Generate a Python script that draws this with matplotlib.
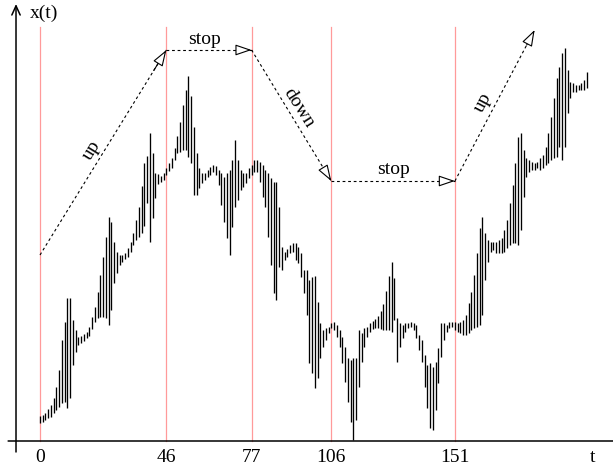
import matplotlib
matplotlib.use('Agg')
import matplotlib.pyplot as plt

# one bar per time step, t = 0..199 (low / high of x(t))
lows = [18, 19, 21, 23, 24, 28, 31, 34, 38, 39,
        33, 43, 76, 89, 96, 98, 100, 103, 105, 112,
        119, 123, 124, 124, 123, 116, 131, 158, 168, 176,
        179, 182, 184, 189, 196, 201, 204, 208, 215, 238,
        199, 223, 243, 257, 259, 261, 266, 270, 273, 281,
        288, 289, 291, 291, 284, 278, 246, 246, 253, 258,
        261, 264, 266, 269, 266, 256, 236, 219, 203, 186,
        214, 234, 241, 251, 254, 258, 263, 266, 269, 269,
        259, 244, 234, 204, 176, 148, 141, 174, 171, 181,
        184, 188, 189, 181, 178, 164, 148, 126, 78, 68,
        53, 63, 83, 94, 101, 108, 113, 111, 104, 94,
        78, 59, 39, 19, 1, 21, 54, 79, 94, 104,
        109, 112, 113, 113, 112, 111, 111, 111, 109, 121,
        79, 94, 103, 109, 113, 114, 111, 103, 91, 79,
        54, 33, 13, 11, 31, 58, 84, 101, 109, 113,
        114, 111, 109, 108, 106, 106, 108, 111, 113, 114,
        116, 126, 161, 179, 189, 191, 188, 188, 188, 189,
        193, 196, 198, 198, 196, 211, 244, 264, 269, 271,
        271, 273, 271, 273, 276, 278, 281, 283, 284, 294,
        281, 294, 328, 343, 349, 349, 351, 351, 351, 353]
highs = [25, 26, 28, 32, 36, 43, 54, 71, 101, 119,
         143, 143, 121, 111, 104, 105, 107, 109, 114, 124,
         134, 149, 166, 184, 204, 224, 219, 199, 189, 186,
         186, 188, 193, 199, 208, 221, 234, 255, 278, 285,
         308, 288, 268, 267, 265, 268, 273, 278, 283, 293,
         305, 319, 336, 351, 365, 345, 314, 288, 273, 268,
         268, 271, 274, 276, 275, 271, 268, 264, 268, 271,
         281, 301, 281, 271, 268, 268, 273, 276, 281, 281,
         279, 276, 271, 268, 263, 259, 259, 234, 194, 189,
         192, 196, 198, 198, 194, 188, 171, 171, 161, 164,
         165, 139, 118, 111, 113, 114, 118, 119, 116, 111,
         104, 94, 83, 81, 83, 83, 111, 108, 113, 114,
         118, 120, 122, 125, 130, 137, 150, 165, 179, 163,
         123, 118, 116, 118, 118, 119, 118, 116, 106, 101,
         86, 76, 78, 74, 79, 93, 118, 118, 116, 119,
         119, 119, 118, 119, 121, 126, 138, 149, 166, 188,
         213, 224, 208, 201, 199, 199, 199, 201, 203, 211,
         221, 238, 256, 278, 304, 308, 291, 283, 281, 279,
         278, 279, 283, 286, 294, 308, 324, 343, 363, 374,
         388, 393, 371, 359, 358, 356, 356, 358, 361, 369]

events = [0, 46, 77, 106, 151]
phases = ['up', 'stop', 'down', 'stop', 'up']
# level of the trend arrows at each event, and the end of the last one
levels = [186, 391, 391, 260, 260]
last_end = (180, 411)

plt.rcParams['font.family'] = ['Liberation Serif', 'DejaVu Serif']
plt.rcParams['font.size'] = 14

fig = plt.figure(figsize=(6.13, 4.68), dpi=100)
ax = fig.add_axes([0, 0, 1, 1])
ax.axis('off')
ax.set_xlim(-14.556, 208.52)
ax.set_ylim(-27, 441)

# event lines
for e in events:
    ax.plot([e, e], [0, 414], color='#ff9a9a', lw=0.9, zorder=1)

# bars
t = list(range(len(lows)))
ax.vlines(t, lows, highs, color='black', lw=0.95, zorder=3)

# axes with arrows
ax.annotate('', xy=(-8.73, 437), xytext=(-8.73, -11),
            arrowprops=dict(arrowstyle='->,head_length=0.33,head_width=0.15',
                            mutation_scale=20, color='black', lw=1.1,
                            shrinkA=0, shrinkB=0), annotation_clip=False)
ax.annotate('', xy=(213.5, 0), xytext=(-11.6, 0),
            arrowprops=dict(arrowstyle='->,head_length=0.33,head_width=0.15',
                            mutation_scale=20, color='black', lw=1.1,
                            shrinkA=0, shrinkB=0), annotation_clip=False)
ax.text(-3.6, 428, 'x(t)', ha='left', va='center')
ax.text(201.2, -17, 't', ha='center', va='center')
for e in events:
    ax.text(e, -17, str(e), ha='center', va='center')


def trend_arrow(p0, p1):
    ax.plot([p0[0], p1[0]], [p0[1], p1[1]], color='black', lw=0.8,
            dashes=(2.5, 2.5), zorder=4)
    back = (p1[0] - 0.1 * (p1[0] - p0[0]), p1[1] - 0.1 * (p1[1] - p0[1]))
    ax.annotate('', xy=p1, xytext=back,
                arrowprops=dict(arrowstyle='-|>,head_length=0.5,head_width=0.17',
                                mutation_scale=20, fc='white', ec='black', lw=0.8,
                                shrinkA=0, shrinkB=0), zorder=5)


starts = list(zip(events, levels))
ends = starts[1:] + [last_end]
for p0, p1 in zip(starts, ends):
    trend_arrow(p0, p1)

ax.text(18.9, 291, phases[0], rotation=58.4, ha='center', va='center')
ax.text(60.0, 402, phases[1], ha='center', va='center')
ax.text(94.3, 333, phases[2], rotation=-57.6, ha='center', va='center')
ax.text(128.5, 271, phases[3], ha='center', va='center')
ax.text(161.2, 339, phases[4], rotation=62, ha='center', va='center')

fig.savefig('out.png', dpi=100)
